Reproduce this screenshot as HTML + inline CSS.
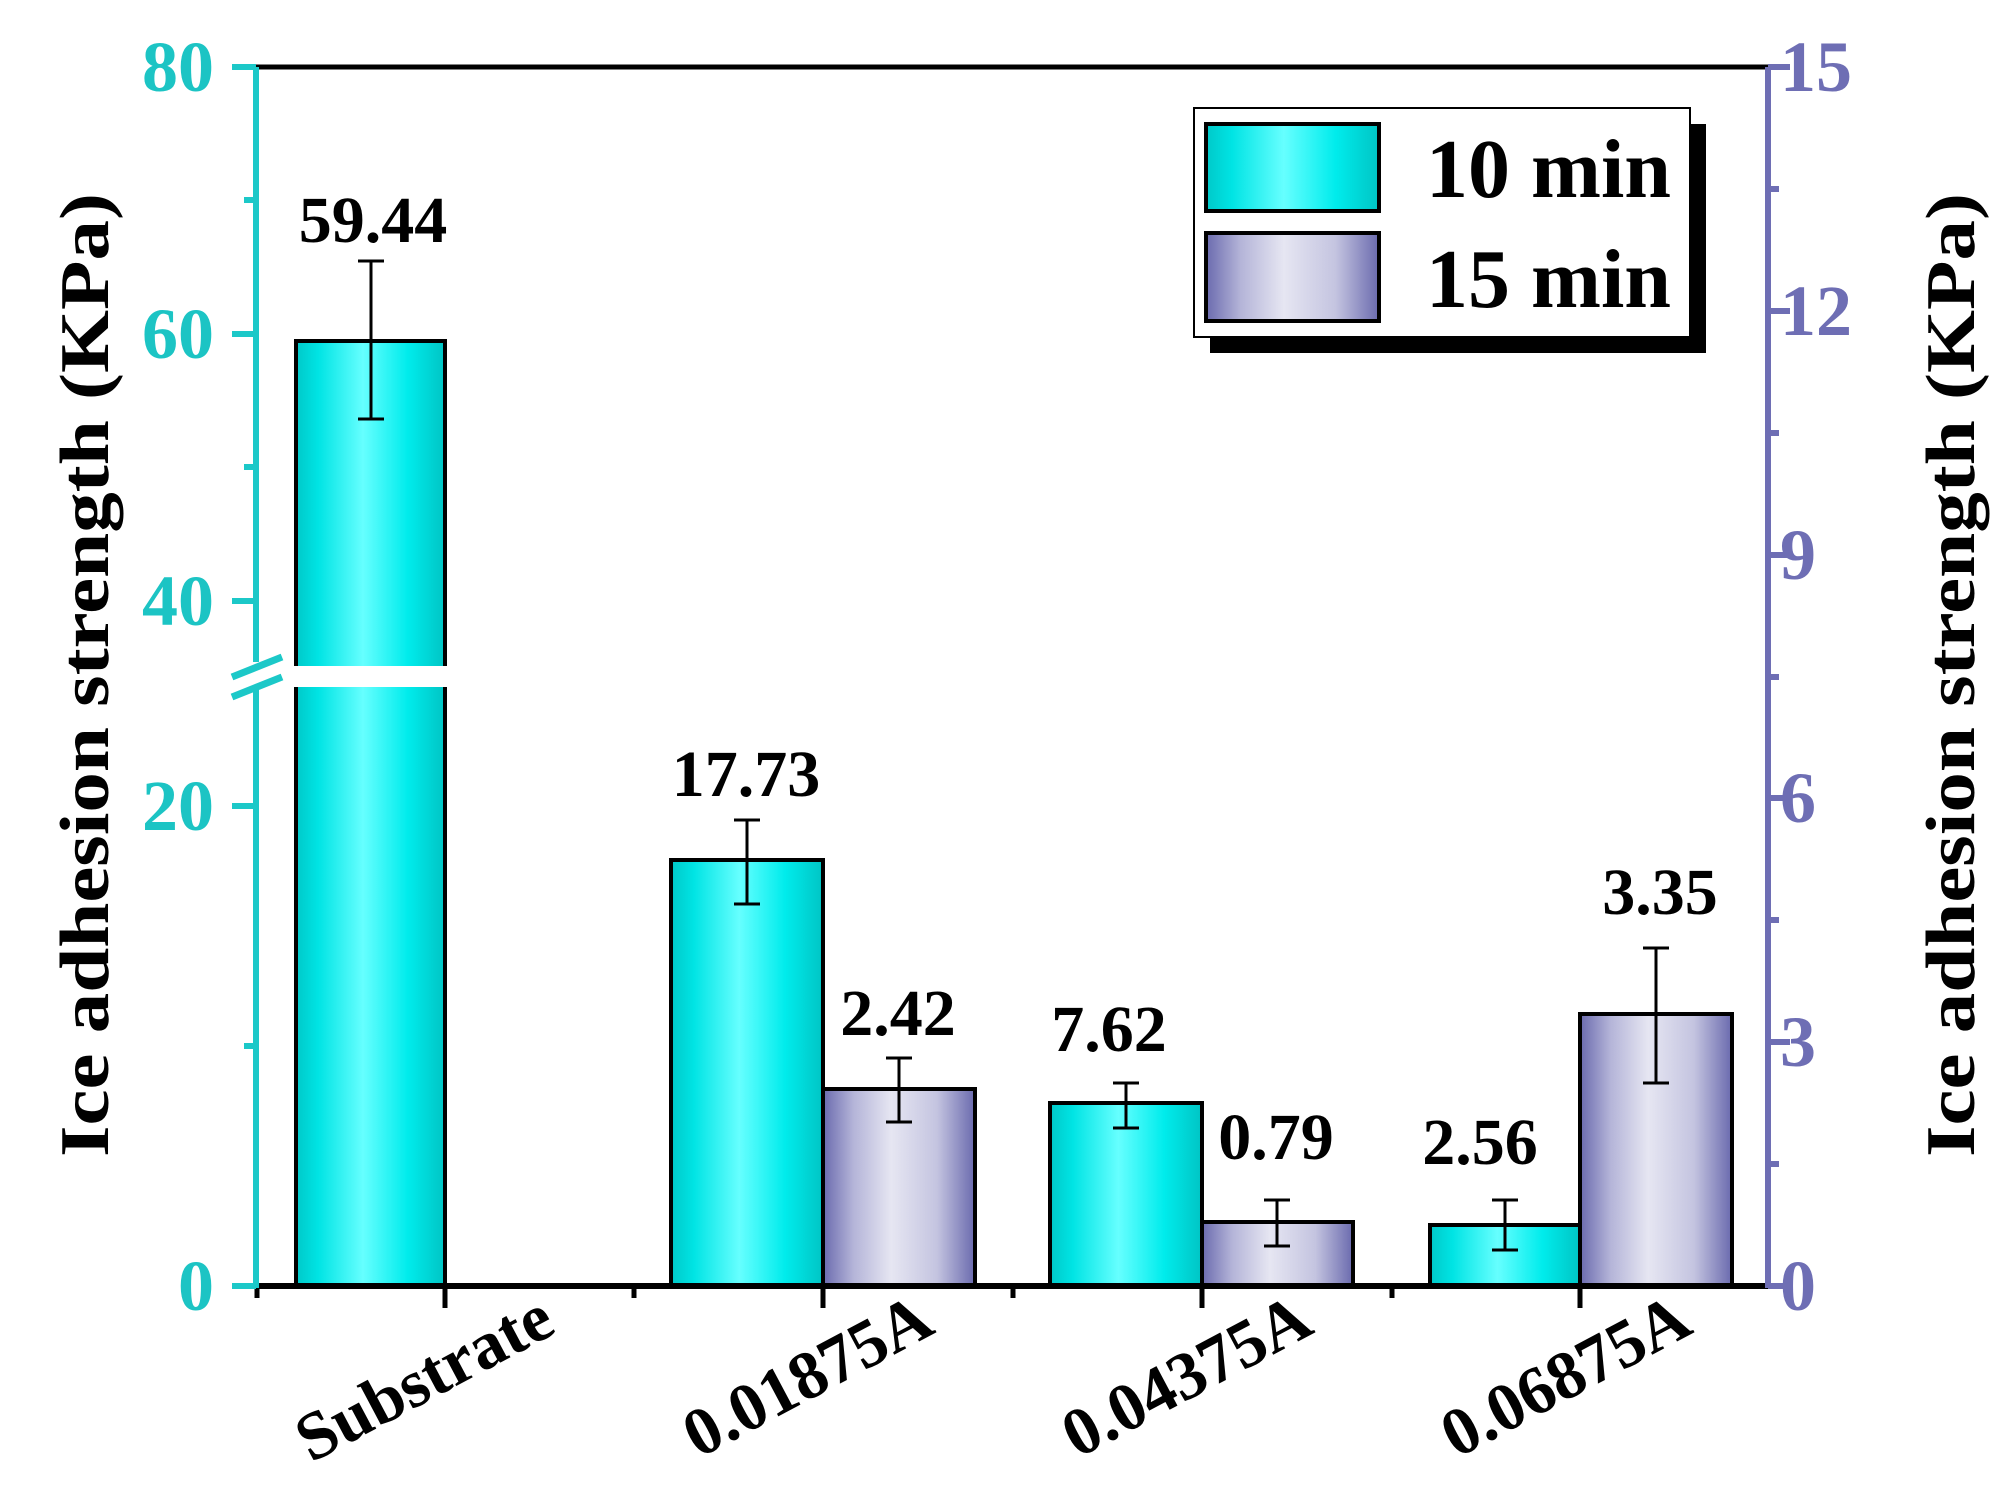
<!DOCTYPE html>
<html><head><meta charset="utf-8"><style>html,body{margin:0;padding:0;background:#fff}svg{display:block}</style></head>
<body>
<svg width="2016" height="1488" viewBox="0 0 2016 1488" xmlns="http://www.w3.org/2000/svg" font-family="'Liberation Serif',serif" font-weight="bold">
<defs>
<linearGradient id="cy" x1="0" x2="1" y1="0" y2="0">
<stop offset="0" stop-color="#00c8c8"/><stop offset="0.15" stop-color="#00e4e4"/><stop offset="0.45" stop-color="#66ffff"/><stop offset="0.75" stop-color="#00ecec"/><stop offset="1" stop-color="#00c4c4"/></linearGradient>
<linearGradient id="pu" x1="0" x2="1" y1="0" y2="0">
<stop offset="0" stop-color="#6a6aae"/><stop offset="0.2" stop-color="#b4b4d8"/><stop offset="0.45" stop-color="#e6e6f2"/><stop offset="0.75" stop-color="#c4c4e0"/><stop offset="1" stop-color="#6a6aae"/></linearGradient>
</defs>
<line x1="252" y1="67" x2="1770" y2="67" stroke="#000" stroke-width="5"/>
<g stroke="#000" stroke-width="4">
<rect x="296" y="341" width="149" height="944" fill="url(#cy)"/>
<rect x="671" y="860" width="152" height="425" fill="url(#cy)"/>
<rect x="823" y="1089" width="152" height="196" fill="url(#pu)"/>
<rect x="1050" y="1103" width="152" height="182" fill="url(#cy)"/>
<rect x="1202" y="1222" width="151" height="63" fill="url(#pu)"/>
<rect x="1430" y="1225" width="150" height="60" fill="url(#cy)"/>
<rect x="1580" y="1014" width="152" height="271" fill="url(#pu)"/>
</g>
<rect x="280" y="666" width="190" height="21" fill="#fff"/>
<g stroke="#000" stroke-width="3">
<path d="M371 261V419M358 261H384M358 419H384"/>
<path d="M747 820V904M734 820H760M734 904H760"/>
<path d="M899 1058V1122M886 1058H912M886 1122H912"/>
<path d="M1126 1083V1128M1113 1083H1139M1113 1128H1139"/>
<path d="M1277 1200V1246M1264 1200H1290M1264 1246H1290"/>
<path d="M1505 1200V1250M1492 1200H1518M1492 1250H1518"/>
<path d="M1656 948V1083M1643 948H1669M1643 1083H1669"/>
</g>
<line x1="252" y1="1286" x2="1770" y2="1286" stroke="#000" stroke-width="6"/>
<g stroke="#000" stroke-width="5">
<path d="M445 1286v22M823 1286v22M1202 1286v22M1580 1286v22M634 1286v12M1013 1286v12M1392 1286v12M257 1286v12"/>
</g>
<g stroke="#1cc8c8" stroke-width="6" fill="none">
<path d="M256 67V662M256 690V1288"/>
<path d="M232 67h24M232 334h24M232 601h24M232 806h24M232 1286h24M244 200h12M244 467h12M244 1046h12"/>
<path d="M232 677l50-20M232 697l50-20" stroke-width="7"/>
</g>
<g stroke="#6e6eb4" stroke-width="6" fill="none">
<path d="M1768 67V1288"/>
<path d="M1768 67h22M1768 311h22M1768 555h22M1768 798h22M1768 1042h22M1768 1286h22M1768 189h11M1768 433h11M1768 677h11M1768 920h11M1768 1164h11"/>
</g>
<g fill="#1cc4c4" font-size="72" text-anchor="end">
<text x="214" y="91">80</text><text x="214" y="358">60</text><text x="214" y="625">40</text><text x="214" y="830">20</text><text x="214" y="1310">0</text>
</g>
<g fill="#6e6eb4" font-size="72">
<text x="1780" y="91">15</text><text x="1780" y="335">12</text><text x="1780" y="579">9</text><text x="1780" y="822">6</text><text x="1780" y="1066">3</text><text x="1780" y="1310">0</text>
</g>
<g font-size="66" text-anchor="middle" fill="#000">
<text x="373" y="242">59.44</text><text x="746" y="796">17.73</text><text x="898" y="1035">2.42</text><text x="1109" y="1051">7.62</text><text x="1276" y="1159">0.79</text><text x="1480" y="1164">2.56</text><text x="1660" y="914">3.35</text>
</g>
<text transform="translate(108,675) rotate(-90)" text-anchor="middle" font-size="70" textLength="964" lengthAdjust="spacingAndGlyphs">Ice adhesion strength (KPa)</text>
<text transform="translate(1974,675) rotate(-90)" text-anchor="middle" font-size="70" textLength="964" lengthAdjust="spacingAndGlyphs">Ice adhesion strength (KPa)</text>
<g font-size="68" text-anchor="end">
<text transform="translate(558,1332) rotate(-28)">Substrate</text>
<text transform="translate(937,1332) rotate(-28)">0.01875A</text>
<text transform="translate(1316,1332) rotate(-28)">0.04375A</text>
<text transform="translate(1695,1332) rotate(-28)">0.06875A</text>
</g>
<rect x="1210" y="124" width="496" height="229" fill="#000"/>
<rect x="1194" y="108" width="496" height="229" fill="#fff" stroke="#000" stroke-width="2"/>
<rect x="1206" y="124" width="173" height="87" fill="url(#cy)" stroke="#000" stroke-width="4"/>
<rect x="1206" y="233" width="173" height="88" fill="url(#pu)" stroke="#000" stroke-width="4"/>
<g font-size="84"><text x="1426" y="197">10 min</text><text x="1426" y="307">15 min</text></g>
</svg>
</body></html>
